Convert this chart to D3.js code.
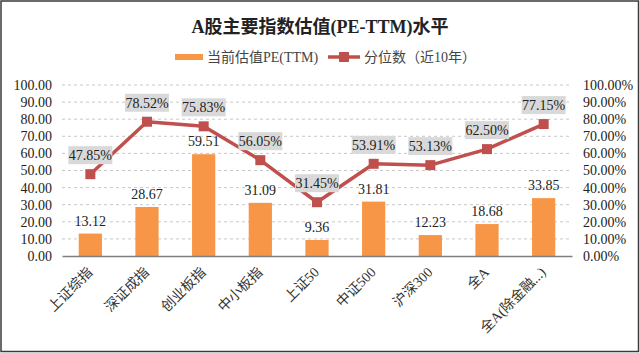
<!DOCTYPE html>
<html><head><meta charset="utf-8">
<script src="https://cdn.jsdelivr.net/npm/d3@7"></script>
<style>
html,body{margin:0;padding:0;background:#fff;}
svg text{font-family:"Liberation Serif","Noto Sans CJK SC",serif;}
</style></head>
<body>
<svg id="c" width="640" height="353"></svg>
<script>
const categories = ["上证综指","深证成指","创业板指","中小板指","上证50","中证500","沪深300","全A","全A(除金融...)"];
const peValues = [13.12, 28.67, 59.51, 31.09, 9.36, 31.81, 12.23, 18.68, 33.85];
const pctValues = [47.85, 78.52, 75.83, 56.05, 31.45, 53.91, 53.13, 62.50, 77.15];
const leftTicks = [0,10,20,30,40,50,60,70,80,90,100];
const rightTicks = [0,10,20,30,40,50,60,70,80,90,100];
const title = "A股主要指数估值(PE-TTM)水平";
const seriesNames = ["当前估值PE(TTM)", "分位数（近10年）"];

const W = 640, H = 353;
const m = {left: 62, right: 68, top: 85, bottom: 97};
const svg = d3.select("#c");
const orange = "#F79646", red = "#C0504D";

svg.append("rect").attr("x",1).attr("y",1).attr("width",W-2.5).attr("height",H-2.5)
  .attr("fill","#fff").attr("stroke","#3a3a3a").attr("stroke-width",1.5);

const x = d3.scaleBand().domain(categories).range([m.left, W - m.right]).paddingInner(0.59).paddingOuter(0.295);
const yL = d3.scaleLinear().domain([0,100]).range([H - m.bottom, m.top]);
const yR = d3.scaleLinear().domain([0,100]).range([H - m.bottom, m.top]);
const cx = d => x(d) + x.bandwidth()/2;

// gridlines
svg.append("g").selectAll("line").data(leftTicks.filter(t=>t>0)).join("line")
  .attr("x1", m.left).attr("x2", W - m.right)
  .attr("y1", d=>yL(d)).attr("y2", d=>yL(d))
  .attr("stroke","#c8c8c8").attr("stroke-dasharray","3,3").attr("stroke-width",1);

// left axis
const gl = svg.append("g").attr("transform",`translate(${m.left},0)`)
  .call(d3.axisLeft(yL).tickValues(leftTicks).tickFormat(d=>d3.format(".2f")(d)).tickSize(0).tickPadding(10));
gl.select(".domain").remove();
gl.selectAll("text").attr("font-size",14).attr("fill","#222");

// right axis
const gr = svg.append("g").attr("transform",`translate(${W - m.right},0)`)
  .call(d3.axisRight(yR).tickValues(rightTicks).tickFormat(d=>d3.format(".2f")(d)+"%").tickSize(0).tickPadding(11));
gr.select(".domain").remove();
gr.selectAll("text").attr("font-size",14).attr("fill","#222");

// bars
svg.append("g").selectAll("rect").data(peValues).join("rect")
  .attr("x",(d,i)=>x(categories[i])).attr("width",x.bandwidth())
  .attr("y",d=>yL(d)).attr("height",d=>yL(0)-yL(d)).attr("fill",orange);

// bar labels
svg.append("g").selectAll("text").data(peValues).join("text")
  .attr("x",(d,i)=>cx(categories[i])).attr("y",d=>yL(d)-8)
  .attr("text-anchor","middle").attr("font-size",14).attr("fill","#222")
  .text(d=>d3.format(".2f")(d));

// x axis
const gx = svg.append("g").attr("transform",`translate(0,${yL(0)})`)
  .call(d3.axisBottom(x).tickSize(0).tickPadding(0));
gx.select(".domain").attr("stroke","#7f7f7f").attr("stroke-width",1.5);
gx.selectAll("text").attr("font-size",14).attr("fill","#333")
  .attr("text-anchor","end").attr("dy","0")
  .attr("transform","translate(3,17) rotate(-45)");

// line
const line = d3.line().x((d,i)=>cx(categories[i])).y(d=>yR(d));
svg.append("path").datum(pctValues).attr("d",line)
  .attr("fill","none").attr("stroke",red).attr("stroke-width",3.5).attr("stroke-linejoin","round");
svg.append("g").selectAll("rect").data(pctValues).join("rect")
  .attr("x",(d,i)=>cx(categories[i])-5).attr("y",d=>yR(d)-5)
  .attr("width",10).attr("height",10).attr("fill",red);

// pct labels
const lg = svg.append("g").selectAll("g").data(pctValues).join("g")
  .attr("transform",(d,i)=>`translate(${cx(categories[i])},${yR(d)-19})`);
lg.append("rect").attr("x",-22).attr("y",-9).attr("width",44).attr("height",18).attr("fill","#d9d9d9");
lg.append("text").attr("text-anchor","middle").attr("dy","0.35em").attr("font-size",14).attr("fill","#222")
  .text(d=>d3.format(".2f")(d)+"%");

// title
svg.append("text").attr("x",W/2).attr("y",33).attr("text-anchor","middle")
  .attr("font-size",18).attr("font-weight","bold").attr("fill","#222").text(title);

// legend
const leg = svg.append("g");
leg.append("rect").attr("x",175).attr("y",54).attr("width",28).attr("height",6).attr("fill",orange);
leg.append("text").attr("x",207).attr("y",57).attr("dy","0.35em").attr("font-size",14).attr("fill","#444").text(seriesNames[0]);
leg.append("line").attr("x1",328).attr("x2",360).attr("y1",57).attr("y2",57).attr("stroke",red).attr("stroke-width",3.5);
leg.append("rect").attr("x",339).attr("y",52).attr("width",10).attr("height",10).attr("fill",red);
leg.append("text").attr("x",364).attr("y",57).attr("dy","0.35em").attr("font-size",14).attr("fill","#444").text(seriesNames[1]);
</script>
</body></html>
